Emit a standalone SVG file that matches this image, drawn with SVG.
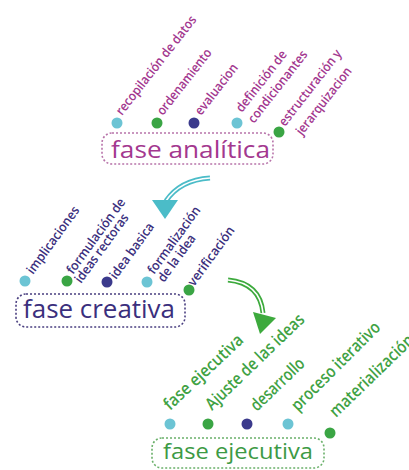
<svg xmlns="http://www.w3.org/2000/svg" width="409" height="470" viewBox="0 0 409 470">
<style>
.lbl{font-family:"Open Sans","Liberation Sans",sans-serif;font-size:13px;font-weight:600}
.big{font-family:"Open Sans","Liberation Sans",sans-serif}
.an{fill:#a3388f}
.cr{fill:#3b2f7d}
.ej{fill:#3fa244;font-size:17px}
.lb{fill:#6cc4d4}.gr{fill:#3aa544}.nv{fill:#3b3a8c}
.box{fill:none;stroke-width:1.6;stroke-dasharray:2 2}
</style>
<rect width="409" height="470" fill="#ffffff"/>
<g id="fase-analitica">
<rect class="box" x="102" y="133" width="171" height="31" rx="10" stroke="#b874aa"/>
<text class="big" x="111" y="158" font-size="24" fill="#a3388f" textLength="159" lengthAdjust="spacingAndGlyphs">fase analítica</text>
</g>
<g id="a1"><circle class="lb" cx="117" cy="123" r="5.5"/><text class="lbl an" transform="translate(122,116) rotate(-52)" textLength="122" lengthAdjust="spacingAndGlyphs">recopilación de datos</text></g>
<g id="a2"><circle class="gr" cx="157" cy="123" r="5.5"/><text class="lbl an" transform="translate(163,116) rotate(-52)" textLength="80" lengthAdjust="spacingAndGlyphs">ordenamiento</text></g>
<g id="a3"><circle class="nv" cx="194" cy="123" r="5.5"/><text class="lbl an" transform="translate(201,116) rotate(-52)" textLength="61" lengthAdjust="spacingAndGlyphs">evaluacion</text></g>
<g id="a4"><circle class="lb" cx="237" cy="123" r="5.5"/><text class="lbl an" transform="translate(242,113) rotate(-52)" textLength="74" lengthAdjust="spacingAndGlyphs">definición de</text><text class="lbl an" transform="translate(254,124) rotate(-52)" textLength="88" lengthAdjust="spacingAndGlyphs">condicionantes</text></g>
<g id="a5"><circle class="gr" cx="279" cy="132" r="5.5"/><text class="lbl an" transform="translate(285,127) rotate(-52)" textLength="93" lengthAdjust="spacingAndGlyphs">estructuración y</text><text class="lbl an" transform="translate(302,136) rotate(-52)" textLength="82" lengthAdjust="spacingAndGlyphs">jerarquizacion</text></g>

<g id="fase-creativa">
<rect class="box" x="16" y="294" width="169" height="33" rx="10" stroke="#4a3f80"/>
<text class="big" x="23" y="318" font-size="26" fill="#3b2f7d" textLength="152" lengthAdjust="spacingAndGlyphs">fase creativa</text>
</g>
<g id="c1"><circle class="lb" cx="25" cy="281" r="5.5"/><text class="lbl cr" transform="translate(33,275) rotate(-54)" textLength="80" lengthAdjust="spacingAndGlyphs">implicaciones</text></g>
<g id="c2"><circle class="gr" cx="67" cy="281" r="5.5"/><text class="lbl cr" transform="translate(73,275) rotate(-54)" textLength="90" lengthAdjust="spacingAndGlyphs">formulación de</text><text class="lbl cr" transform="translate(81,284) rotate(-54)" textLength="82" lengthAdjust="spacingAndGlyphs">ideas rectoras</text></g>
<g id="c3"><circle class="nv" cx="107" cy="282" r="5.5"/><text class="lbl cr" transform="translate(116,280) rotate(-54)" textLength="66" lengthAdjust="spacingAndGlyphs">idea basica</text></g>
<g id="c4"><circle class="lb" cx="147" cy="282" r="5.5"/><text class="lbl cr" transform="translate(154,275) rotate(-54)" textLength="80" lengthAdjust="spacingAndGlyphs">formalización</text><text class="lbl cr" transform="translate(164,283) rotate(-54)" textLength="55" lengthAdjust="spacingAndGlyphs">de la idea</text></g>
<g id="c5"><circle class="gr" cx="189" cy="290" r="5.5"/><text class="lbl cr" transform="translate(194,287) rotate(-54)" textLength="70" lengthAdjust="spacingAndGlyphs">verificación</text></g>

<g id="fase-ejecutiva">
<rect class="box" x="152" y="438" width="172" height="30" rx="10" stroke="#6ab06a"/>
<text class="big" x="163" y="459" font-size="22" fill="#3d9a45" textLength="150" lengthAdjust="spacingAndGlyphs">fase ejecutiva</text>
</g>
<g id="e1"><circle class="lb" cx="170" cy="424" r="5.5"/><text class="lbl ej" transform="translate(170,411) rotate(-43)" textLength="102" lengthAdjust="spacingAndGlyphs">fase ejecutiva</text></g>
<g id="e2"><circle class="gr" cx="208" cy="424" r="5.5"/><text class="lbl ej" transform="translate(212,411) rotate(-44)" textLength="130" lengthAdjust="spacingAndGlyphs">Ajuste de las ideas</text></g>
<g id="e3"><circle class="nv" cx="247" cy="424" r="5.5"/><text class="lbl ej" transform="translate(257,412) rotate(-44)" textLength="68" lengthAdjust="spacingAndGlyphs">desarrollo</text></g>
<g id="e4"><circle class="lb" cx="288" cy="424" r="5.5"/><text class="lbl ej" transform="translate(298,412) rotate(-45)" textLength="118" lengthAdjust="spacingAndGlyphs">proceso iterativo</text></g>
<g id="e5"><circle class="gr" cx="330" cy="433" r="5.5"/><text class="lbl ej" transform="translate(336,418) rotate(-44)" textLength="110" lengthAdjust="spacingAndGlyphs">materialización</text></g>

<g id="connectors">
<path d="M 210 178 Q 180 180 166 201" fill="none" stroke="#4bbcc8" stroke-width="5"/>
<path d="M 210 178 Q 180 180 166 201" fill="none" stroke="#ffffff" stroke-width="1.6"/>
<polygon points="152,200 178,200 165,219" fill="#4bbcc8"/>
<path d="M 228 280 Q 260 283 263 313" fill="none" stroke="#3daa3d" stroke-width="5"/>
<path d="M 228 280 Q 260 283 263 313" fill="none" stroke="#ffffff" stroke-width="1.6"/>
<polygon points="253,312 276,318 260,334" fill="#3daa3d"/>
</g>
</svg>
